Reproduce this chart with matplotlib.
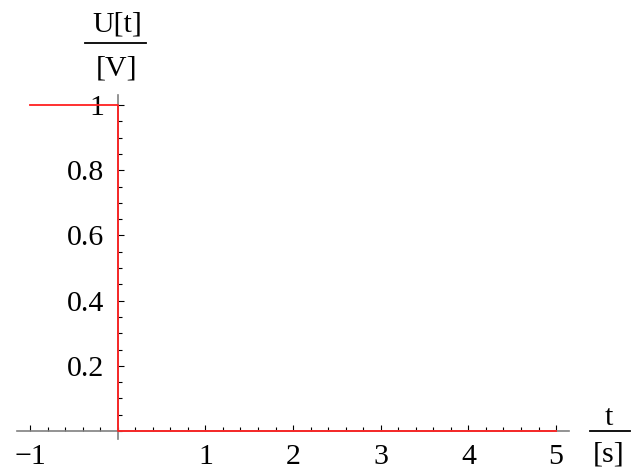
import matplotlib
matplotlib.use("Agg")
import matplotlib.pyplot as plt
from matplotlib.lines import Line2D
from matplotlib.ticker import FixedLocator, MultipleLocator

# data
t_vals = [-1, 0, 0, 5]
u_vals = [1, 1, 0, 0]
x_ticks = [-1, 1, 2, 3, 4, 5]
x_tick_labels = ["\u22121", "1", "2", "3", "4", "5"]
y_ticks = [0.2, 0.4, 0.6, 0.8, 1.0]
y_tick_labels = ["0.2", "0.4", "0.6", "0.8", "1"]

W, H = 632, 470
plt.rcParams['font.family'] = ['Liberation Serif', 'DejaVu Serif']
fig = plt.figure(figsize=(W / 100, H / 100), dpi=100)

xmin, xmax = -1.15, 5.15
ymin, ymax = -0.025, 1.03
px_x0, px_ux = 117.7, 87.67
px_y0, px_uy = 431.0, 326.0
left = px_x0 + xmin * px_ux
right = px_x0 + xmax * px_ux
top = px_y0 - ymax * px_uy
bottom = px_y0 - ymin * px_uy
ax = fig.add_axes([left / W, 1 - bottom / H, (right - left) / W, (bottom - top) / H])
ax.set_xlim(xmin, xmax)
ax.set_ylim(ymin, ymax)
ax.patch.set_visible(False)

for s in ['top', 'right']:
    ax.spines[s].set_visible(False)
ax.spines['left'].set_position(('data', 0))
ax.spines['bottom'].set_position(('data', 0))
for s in ['left', 'bottom']:
    ax.spines[s].set_color('#808080')
    ax.spines[s].set_linewidth(1.2)

ax.xaxis.set_major_locator(FixedLocator(x_ticks))
ax.set_xticklabels(x_tick_labels)
ax.xaxis.set_minor_locator(MultipleLocator(0.2))
ax.yaxis.set_major_locator(FixedLocator(y_ticks))
ax.set_yticklabels(y_tick_labels)
ax.yaxis.set_minor_locator(MultipleLocator(0.05))

ax.tick_params(which='both', direction='in', color='black', width=0.8, labelsize=21.5)
ax.tick_params(which='major', length=4.5)
ax.tick_params(which='minor', length=3)
ax.tick_params(axis='x', which='major', pad=9.5)
ax.tick_params(axis='y', which='major', pad=10)

ax.plot(t_vals, u_vals, color='#ff2020', linewidth=1.3, clip_on=False, zorder=5)

def ftext(x, y, s, **kw):
    fig.text(x / W, 1 - y / H, s, ha='center', va='center', fontsize=21.5, **kw)

ftext(117, 24, "U[t]")
ftext(117, 68, "[V]")
fig.add_artist(Line2D([85 / W, 146 / W], [1 - 43 / H, 1 - 43 / H], color='black', linewidth=1.3))
ftext(609, 418, "t")
ftext(609, 454, "[s]")
fig.add_artist(Line2D([590 / W, 630 / W], [1 - 431 / H, 1 - 431 / H], color='black', linewidth=1.3))

fig.savefig("out.png", dpi=100)
